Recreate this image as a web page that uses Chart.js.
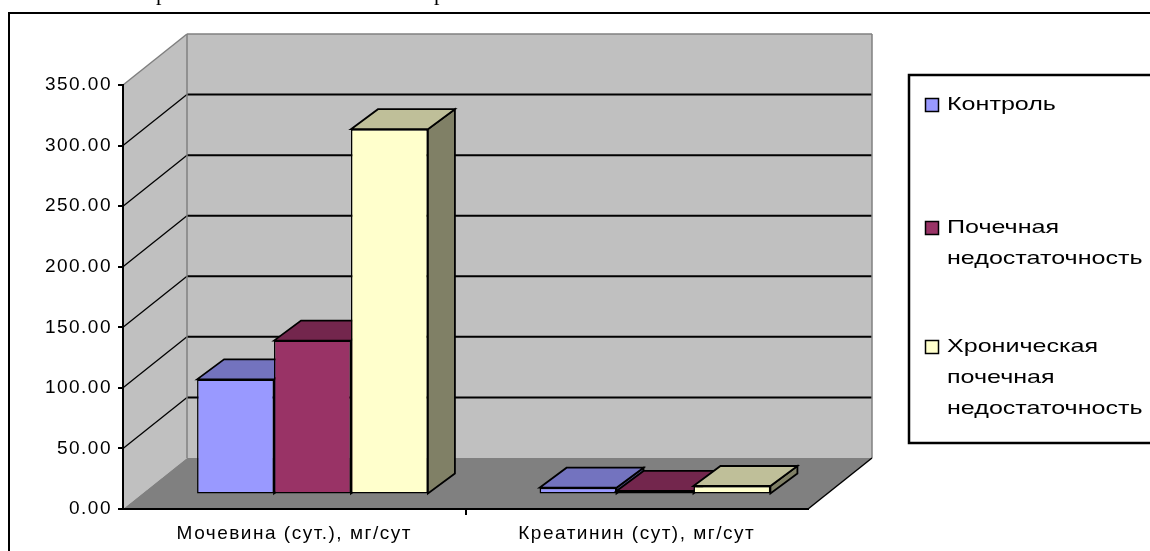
<!DOCTYPE html>
<html>
<head>
<meta charset="utf-8">
<script src="https://cdn.jsdelivr.net/npm/chart.js@4.4.1/dist/chart.umd.min.js"></script>
<style>
  html, body { margin: 0; padding: 0; background: #fff; overflow: hidden; }
  canvas { display: block; }
</style>
</head>
<body>
<canvas id="chart" width="1150" height="551"></canvas>
<script>
// --- data ---
const categories = ['Мочевина (сут.), мг/сут', 'Креатинин (сут), мг/сут'];
const seriesNames = ['Контроль', 'Почечная недостаточность', 'Хроническая почечная недостаточность'];
const controlValues = [95, 5.6];
const renalValues = [127, 2.9];
const chronicValues = [301.5, 7];
const yMin = 0;
const yMax = 350;
const yStep = 50;

// --- look ---
const FONT = "'Liberation Sans', Arial, sans-serif";
const COLORS = ['#9999ff', '#993366', '#ffffcc'];
const DX = 64, DY = -51;          // depth of the 3D box
const FRONT = 0.285;              // where the bars start in depth
const BAR_DX = 27, BAR_DY = -20;  // bar depth
const LEGEND_Y = [105, 228, 347];

function shade(hex, f) {
  const n = parseInt(hex.slice(1), 16);
  const r = Math.round(((n >> 16) & 255) * f);
  const g = Math.round(((n >> 8) & 255) * f);
  const b = Math.round((n & 255) * f);
  return `rgb(${r},${g},${b})`;
}

function poly(ctx, pts, fill, stroke) {
  ctx.beginPath();
  pts.forEach(([x, y], i) => (i ? ctx.lineTo(x, y) : ctx.moveTo(x, y)));
  ctx.closePath();
  if (fill) { ctx.fillStyle = fill; ctx.fill(); }
  if (stroke) { ctx.strokeStyle = stroke; ctx.stroke(); }
}

function line(ctx, x1, y1, x2, y2) {
  ctx.beginPath();
  ctx.moveTo(x1, y1);
  ctx.lineTo(x2, y2);
  ctx.stroke();
}

// walls, floor, grid of the 3D box
const boxPlugin = {
  id: 'box3d',
  beforeDraw(chart) {
    const { ctx, chartArea: a, scales: { y } } = chart;
    const yTop = y.getPixelForValue(yMax);
    const yBot = y.getPixelForValue(yMin);
    ctx.save();
    ctx.fillStyle = '#fff';
    ctx.fillRect(0, 0, chart.width, chart.height);

    // bits of the document text above the frame
    ctx.fillStyle = '#000';
    ctx.font = "22px 'Liberation Serif', serif";
    ctx.textBaseline = 'alphabetic';
    ctx.fillText('р', 156, 0);
    ctx.fillText('р', 434, 0);

    // outer frame
    ctx.strokeStyle = '#000';
    ctx.lineWidth = 2;
    ctx.beginPath();
    ctx.moveTo(9, chart.height + 2);
    ctx.lineTo(9, 13);
    ctx.lineTo(chart.width + 2, 13);
    ctx.stroke();

    // side wall, back wall, floor
    poly(ctx, [[a.left, yBot], [a.left, yTop], [a.left + DX, yTop + DY], [a.left + DX, yBot + DY]], '#c0c0c0');
    poly(ctx, [[a.left + DX, yTop + DY], [a.right + DX, yTop + DY], [a.right + DX, yBot + DY], [a.left + DX, yBot + DY]], '#c0c0c0');
    poly(ctx, [[a.left, yBot], [a.right, yBot], [a.right + DX, yBot + DY], [a.left + DX, yBot + DY]], '#808080');

    // grid lines
    ctx.strokeStyle = '#000';
    y.ticks.forEach(t => {
      if (t.value <= yMin || t.value >= yMax) return;
      const py = y.getPixelForValue(t.value);
      ctx.lineWidth = 2;
      line(ctx, a.left + DX, py + DY, a.right + DX, py + DY);
      ctx.lineWidth = 1.3;
      line(ctx, a.left, py, a.left + DX, py + DY);
    });

    // wall edges
    ctx.strokeStyle = '#808080';
    ctx.lineWidth = 1.5;
    line(ctx, a.left, yTop, a.left + DX, yTop + DY);
    line(ctx, a.left + DX, yTop + DY, a.right + DX, yTop + DY);
    line(ctx, a.left + DX, yTop + DY, a.left + DX, yBot + DY);
    line(ctx, a.right + DX, yTop + DY, a.right + DX, yBot + DY);
    ctx.strokeStyle = '#000';
    ctx.lineWidth = 1.5;
    line(ctx, a.right, yBot, a.right + DX, yBot + DY);
    ctx.restore();

    ctx.letterSpacing = '1.5px';
  },
  afterDraw(chart) {
    const ctx = chart.ctx;
    ctx.save();
    ctx.letterSpacing = '0px';
    ctx.fillStyle = '#fff';
    ctx.strokeStyle = '#000';
    ctx.lineWidth = 2.5;
    ctx.fillRect(909, 75, 300, 368);
    ctx.strokeRect(909, 75, 300, 368);
    ctx.font = '19px ' + FONT;
    ctx.textBaseline = 'middle';
    chart.data.datasets.forEach((ds, i) => {
      const y0 = LEGEND_Y[i];
      ctx.fillStyle = ds.backgroundColor;
      ctx.fillRect(925.5, y0 - 6.5, 13, 13);
      ctx.lineWidth = 1.5;
      ctx.strokeRect(925.5, y0 - 6.5, 13, 13);
      ctx.fillStyle = '#000';
      ds.label.split(' ').forEach((word, k) => {
        ctx.save();
        ctx.translate(947, y0 + k * 31);
        ctx.scale(1.32, 1);
        ctx.fillText(word, 0, 0);
        ctx.restore();
      });
    });
    ctx.restore();
  }
};

// bars drawn left to right with their top and side faces
const barsPlugin = {
  id: 'bars3d',
  beforeDatasetsDraw(chart) {
    const ctx = chart.ctx;
    ctx.save();
    ctx.translate(DX * FRONT, DY * FRONT);
    ctx.lineWidth = 1.8;
    ctx.lineJoin = 'miter';
    for (let i = 0; i < chart.data.labels.length; i++) {
      chart.data.datasets.forEach((ds, d) => {
        const bar = chart.getDatasetMeta(d).data[i];
        const { x, y, base, width } = bar.getProps(['x', 'y', 'base', 'width'], true);
        const l = x - width / 2, r = x + width / 2;
        const top = Math.min(y, base), bottom = Math.max(y, base);
        poly(ctx, [[r, top], [r + BAR_DX, top + BAR_DY], [r + BAR_DX, bottom + BAR_DY], [r, bottom]], shade(ds.backgroundColor, 0.5), '#000');
        poly(ctx, [[l, top], [l + BAR_DX, top + BAR_DY], [r + BAR_DX, top + BAR_DY], [r, top]], shade(ds.backgroundColor, 0.75), '#000');
        bar.draw(ctx);
      });
    }
    ctx.restore();
    return false;
  }
};

const seriesValues = [controlValues, renalValues, chronicValues];

new Chart(document.getElementById('chart'), {
  type: 'bar',
  data: {
    labels: categories,
    datasets: seriesNames.map((name, i) => ({
      label: name,
      data: seriesValues[i],
      backgroundColor: COLORS[i],
      borderColor: '#000',
      borderWidth: 1.5,
      borderSkipped: false,
      categoryPercentage: 0.674,
      barPercentage: 1
    }))
  },
  options: {
    responsive: false,
    devicePixelRatio: 1,
    animation: false,
    layout: { padding: { left: 0, top: 85, right: 342, bottom: 0 } },
    plugins: {
      legend: { display: false },
      tooltip: { enabled: false }
    },
    scales: {
      x: {
        offset: true,
        afterFit: s => { s.height = 42; },
        grid: {
          offset: true,
          drawOnChartArea: false,
          tickLength: 6,
          lineWidth: 2,
          color: c => (c.index === 1 ? '#000' : 'rgba(0,0,0,0)')
        },
        border: { display: true, color: '#000', width: 2 },
        ticks: { color: '#000', font: { family: FONT, size: 19 }, padding: 7, maxRotation: 0 }
      },
      y: {
        min: yMin,
        max: yMax,
        afterFit: s => { s.width = 123; },
        grid: { drawOnChartArea: false, tickLength: 5, lineWidth: 2, color: '#000' },
        border: { display: true, color: '#000', width: 2 },
        ticks: {
          stepSize: yStep,
          color: '#000',
          font: { family: FONT, size: 19 },
          padding: 6,
          callback: v => v.toFixed(2)
        }
      }
    }
  },
  plugins: [boxPlugin, barsPlugin]
});
</script>
</body>
</html>
